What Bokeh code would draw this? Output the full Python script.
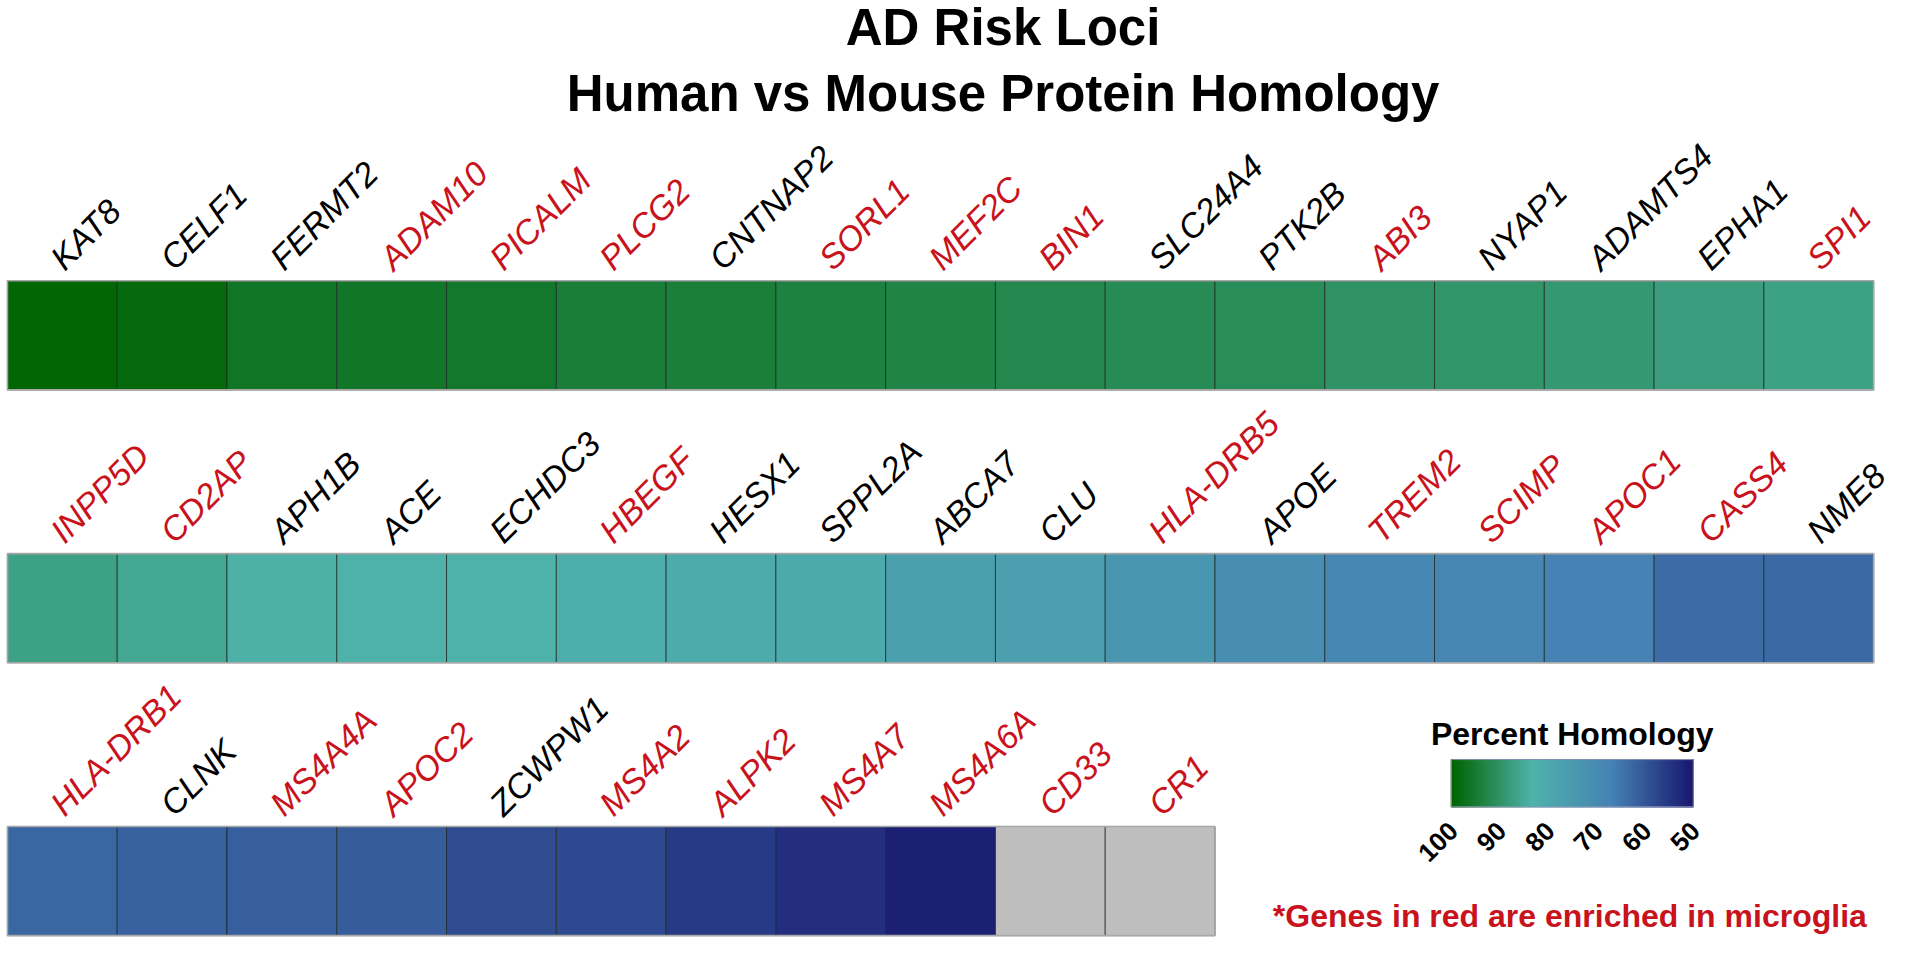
import numpy as np
from bokeh.plotting import figure
from bokeh.models import ColumnDataSource, LinearColorMapper, Range1d
from bokeh.transform import transform
from bokeh.core.properties import value
from bokeh.embed import file_html
from bokeh.resources import INLINE

# ---------------- data ----------------
title_lines = ["AD Risk Loci", "Human vs Mouse Protein Homology"]

genes = [
    "KAT8", "CELF1", "FERMT2", "ADAM10", "PICALM", "PLCG2", "CNTNAP2", "SORL1", "MEF2C",
    "BIN1", "SLC24A4", "PTK2B", "ABI3", "NYAP1", "ADAMTS4", "EPHA1", "SPI1",
    "INPP5D", "CD2AP", "APH1B", "ACE", "ECHDC3", "HBEGF", "HESX1", "SPPL2A", "ABCA7",
    "CLU", "HLA-DRB5", "APOE", "TREM2", "SCIMP", "APOC1", "CASS4", "NME8",
    "HLA-DRB1", "CLNK", "MS4A4A", "APOC2", "ZCWPW1", "MS4A2", "ALPK2", "MS4A7", "MS4A6A",
    "CD33", "CR1",
]

homology = [
    99.5, 98.8, 96.2, 96.0, 95.6, 94.4, 94.2, 93.6, 93.0,
    92.2, 91.6, 91.2, 90.2, 89.6, 88.8, 87.6, 87.0,
    86.8, 85.6, 83.4, 83.2, 83.0, 82.0, 81.0, 80.6, 77.2,
    76.6, 73.6, 70.8, 68.4, 68.0, 66.8, 63.0, 62.8,
    62.2, 61.6, 61.2, 60.6, 58.2, 57.8, 55.4, 53.6, 51.2,
    float("nan"), float("nan"),
]

microglia_enriched = [
    False, False, False, True, True, True, False, True, True,
    True, False, False, True, False, False, False, True,
    True, True, False, False, False, True, False, False, False,
    False, True, False, True, True, True, True, False,
    True, False, True, True, False, True, True, True, True,
    True, True,
]

colorbar_title = "Percent Homology"
colorbar_ticks = [100, 90, 80, 70, 60, 50]
footnote = "*Genes in red are enriched in microglia"

# ---------------- style / layout ----------------
W, H = 1904, 941            # figure size (fits the window with its margin)
PAGE_W, PAGE_H = 1920, 957  # layout designed in reference-picture pixels
CELL_X = 110.7              # reference px per cell (x)
CELL_Y = 111.0              # reference px per cell (y)
X0, Y0 = 7, 285             # reference px of first cell's top-left
PER_ROW = 17
PITCH = 2.5                 # row pitch in cell units
RED = "#c8121c"
FONT = value("Liberation Sans")
LABEL_PX = 34


def dx(px):
    return (px - X0) / CELL_X


def dy(py):
    return (py - Y0) / CELL_Y


# colour ramp: midnightblue -> steelblue -> teal -> darkgreen (low -> high)
anchors = [(25, 25, 112), (70, 130, 180), (78, 178, 170), (0, 100, 0)]
palette = []
n = 256
for k in range(n):
    t = k / (n - 1) * (len(anchors) - 1)
    i = min(int(t), len(anchors) - 2)
    f = t - i
    c = [round(anchors[i][j] + (anchors[i + 1][j] - anchors[i][j]) * f) for j in range(3)]
    palette.append("#%02x%02x%02x" % tuple(c))

mapper = LinearColorMapper(palette=palette, low=50, high=100, nan_color="#bebebe")

p = figure(
    width=W, height=H,
    x_range=Range1d(dx(0), dx(PAGE_W)),
    y_range=Range1d(dy(PAGE_H), dy(0)),
    output_backend="svg", toolbar_location=None, min_border=0,
    x_axis_location=None, y_axis_location=None,
)
p.grid.visible = False
p.outline_line_color = None
p.background_fill_color = "white"

cols = [i % PER_ROW for i in range(len(genes))]
rows = [i // PER_ROW for i in range(len(genes))]

# label anchor: text vertical middle, so shift back along the rotated "down" direction
mid_shift = 0.35 * LABEL_PX * 0.7071
src = ColumnDataSource(dict(
    gene=genes,
    homology=np.array(homology, dtype=float),
    left=[c for c in cols],
    right=[c + 1 for c in cols],
    top=[r * PITCH for r in rows],
    bottom=[r * PITCH + 1 for r in rows],
    lx=[c + 0.52 - mid_shift / CELL_X for c in cols],
    ly=[r * PITCH - (9 + mid_shift) / CELL_Y for r in rows],
    lcolor=[RED if m else "black" for m in microglia_enriched],
))

p.quad(left="left", right="right", top="top", bottom="bottom", source=src,
       fill_color=transform("homology", mapper), line_color="#1c2a24",
       line_alpha=0.75, line_width=1)

# outer row outlines
nrows = max(rows) + 1
row_counts = [rows.count(r) for r in range(nrows)]
p.quad(left=[0] * nrows, right=row_counts,
       top=[r * PITCH for r in range(nrows)],
       bottom=[r * PITCH + 1 for r in range(nrows)],
       fill_color=None, line_color="#a8a8a8", line_width=1.6)

# gene labels
p.text(x="lx", y="ly", text="gene", source=src, angle=np.pi / 4,
       text_align="left", text_baseline="middle", text_color="lcolor",
       text_font=FONT, text_font_style="italic", text_font_size=f"{LABEL_PX}px")

# title
p.text(x=[dx(1011)] * 2, y=[dy(27), dy(95)], text=title_lines,
       text_align="center", text_baseline="middle", text_color="black",
       text_font=FONT, text_font_style="bold", text_font_size="51px")

# colour bar (built from the same mapper)
CB_L, CB_R, CB_T, CB_B = 1463, 1707, 772, 820
steps = np.linspace(100, 50, 160)
edges = np.linspace(dx(CB_L), dx(CB_R), len(steps) + 1)
cb_src = ColumnDataSource(dict(v=steps, l=edges[:-1], r=edges[1:],
                               t=[dy(CB_T)] * len(steps), b=[dy(CB_B)] * len(steps)))
p.quad(left="l", right="r", top="t", bottom="b", source=cb_src,
       fill_color=transform("v", mapper), line_color=transform("v", mapper),
       line_width=1.2)
p.quad(left=[dx(CB_L)], right=[dx(CB_R)], top=[dy(CB_T)], bottom=[dy(CB_B)],
       fill_color=None, line_color="#8a90b0", line_width=1)

tick_x = [dx(CB_L) + (100 - v) / 50 * (dx(CB_R) - dx(CB_L)) for v in colorbar_ticks]
p.text(x=[t + 2 / CELL_X for t in tick_x], y=[dy(840)] * len(tick_x),
       text=[str(v) for v in colorbar_ticks], angle=np.pi / 4,
       text_align="right", text_baseline="middle", text_color="black",
       text_font=FONT, text_font_style="bold", text_font_size="26px")

p.text(x=[dx(1585)], y=[dy(746)], text=[colorbar_title], text_align="center",
       text_baseline="middle", text_color="black", text_font=FONT,
       text_font_style="bold", text_font_size="32px")

p.text(x=[dx(1882)], y=[dy(931)], text=[footnote], text_align="right",
       text_baseline="middle", text_color=RED, text_font=FONT,
       text_font_style="bold", text_font_size="32px")

open("out.html", "w").write(file_html(p, INLINE))
